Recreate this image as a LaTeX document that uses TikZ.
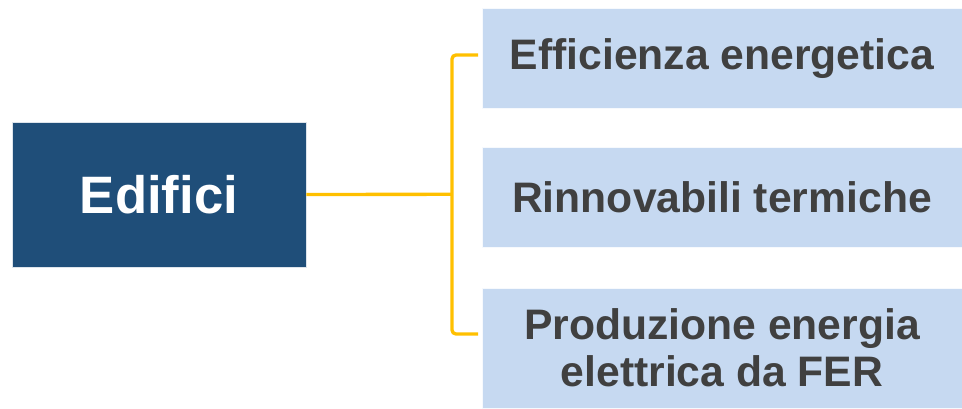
\documentclass[tikz,border=0pt]{standalone}
\usepackage{fontspec}
\setmainfont{Liberation Sans}
\usetikzlibrary{positioning,calc}

\definecolor{darkblue}{HTML}{1F4E79}
\definecolor{lightblue}{HTML}{C6D9F1}
\definecolor{textgray}{HTML}{404040}
\definecolor{gold}{HTML}{FFC000}

\begin{document}
\begin{tikzpicture}[
  x=0.75pt, y=-0.75pt,
  mainbox/.style={rectangle, inner sep=0pt, minimum width=220.5pt, minimum height=108.75pt, draw=white!85!darkblue, line width=0.5pt, fill=darkblue, text=white, font=\bfseries\fontsize{39.5}{46}\selectfont},
  topic/.style={rectangle, inner sep=0pt, minimum width=360pt, minimum height=74.5pt, draw=white!85!lightblue, line width=0.5pt, fill=lightblue, text=textgray, align=center, font=\bfseries\fontsize{32}{35.5}\selectfont},
  link/.style={draw=gold, line width=2.5pt}
]

\useasboundingbox (0,0) rectangle (962,409);

\node[mainbox] (edifici) at (159,194.5) {Edifici};

\node[topic] (eff) at (722,58.25) {Efficienza energetica};
\node[topic] (term) at (722,197.5) {Rinnovabili termiche};
\node[topic, minimum height=90pt] (fer) at (722,348) {Produzione energia\\elettrica da FER};

% bracket
\coordinate (j) at (452,194.3);
\coordinate (b1) at (478,55);
\coordinate (b3) at (478,334);
\draw[link, rounded corners=3pt] (b1) -| (j) |- (b3);
\draw[link] (edifici.east) -- (j);

\end{tikzpicture}
\end{document}
